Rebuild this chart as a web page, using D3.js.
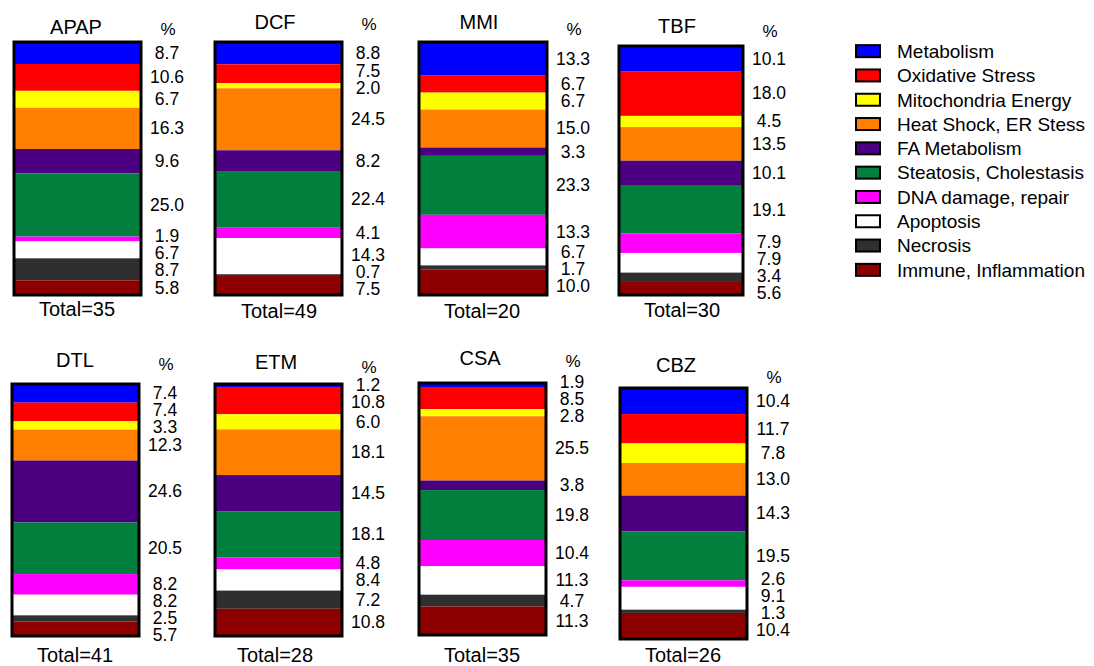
<!DOCTYPE html>
<html>
<head>
<meta charset="utf-8">
<script src="https://cdn.jsdelivr.net/npm/d3@7/dist/d3.min.js"></script>
<style>
  html, body { margin: 0; padding: 0; background: #fff; }
  svg { display: block; }
  text { font-family: "Liberation Sans", Arial, Helvetica, sans-serif; fill: #000; }
</style>
</head>
<body>
<svg id="chart" width="1094" height="666"></svg>
<script>
// ---------------- DATA ----------------
const categories = [
  "Metabolism", "Oxidative Stress", "Mitochondria Energy", "Heat Shock, ER Stess",
  "FA Metabolism", "Steatosis, Cholestasis", "DNA damage, repair", "Apoptosis",
  "Necrosis", "Immune, Inflammation"
];
const drugs  = ["APAP", "DCF", "MMI", "TBF", "DTL", "ETM", "CSA", "CBZ"];
const totals = [35, 49, 20, 30, 41, 28, 35, 26];

const APAP = [8.7, 10.6, 6.7, 16.3, 9.6, 25.0, 1.9, 6.7, 8.7, 5.8];
const DCF  = [8.8, 7.5, 2.0, 24.5, 8.2, 22.4, 4.1, 14.3, 0.7, 7.5];
const MMI  = [13.3, 6.7, 6.7, 15.0, 3.3, 23.3, 13.3, 6.7, 1.7, 10.0];
const TBF  = [10.1, 18.0, 4.5, 13.5, 10.1, 19.1, 7.9, 7.9, 3.4, 5.6];
const DTL  = [7.4, 7.4, 3.3, 12.3, 24.6, 20.5, 8.2, 8.2, 2.5, 5.7];
const ETM  = [1.2, 10.8, 6.0, 18.1, 14.5, 18.1, 4.8, 8.4, 7.2, 10.8];
const CSA  = [1.9, 8.5, 2.8, 25.5, 3.8, 19.8, 10.4, 11.3, 4.7, 11.3];
const CBZ  = [10.4, 11.7, 7.8, 13.0, 14.3, 19.5, 2.6, 9.1, 1.3, 10.4];
const seriesValues = [APAP, DCF, MMI, TBF, DTL, ETM, CSA, CBZ];

// ---------------- STYLE / LAYOUT ----------------
const colors = ["#0000FF", "#FF0000", "#FFFF00", "#FF8000", "#4B0082",
                "#007F3D", "#FF00FF", "#FFFFFF", "#2F2F2F", "#8E0000"];

// per-panel box geometry and text anchors (pixels)
const layout = [
  {x: 14,  y: 42,  w: 127, h: 253, tx: 76,  ty: 34,  py: 35,  totx: 77,  toty: 316},
  {x: 215, y: 42,  w: 127, h: 253, tx: 275, ty: 29,  py: 30,  totx: 279, toty: 318},
  {x: 419, y: 42,  w: 128, h: 253, tx: 479, ty: 29,  py: 35,  totx: 482, toty: 318},
  {x: 619, y: 46,  w: 124, h: 249, tx: 677, ty: 33,  py: 37,  totx: 682, toty: 317},
  {x: 12,  y: 384, w: 127, h: 252, tx: 75,  ty: 367, py: 370, totx: 75,  toty: 662},
  {x: 215, y: 384, w: 127, h: 252, tx: 276, ty: 369, py: 373, totx: 275, toty: 662},
  {x: 419, y: 383, w: 127, h: 252, tx: 480, ty: 365, py: 367, totx: 482, toty: 662},
  {x: 620, y: 388, w: 127, h: 251, tx: 676, ty: 372, py: 383, totx: 683, toty: 662}
];

const svg = d3.select("#chart");
const color = d3.scaleOrdinal().domain(categories).range(colors);

drugs.forEach((drug, i) => {
  const vals = seriesValues[i];
  const L = layout[i];
  const sum = d3.sum(vals);
  const y = d3.scaleLinear().domain([0, sum]).range([L.y, L.y + L.h]);
  const x = d3.scaleBand().domain([drug]).range([L.x, L.x + L.w]).padding(0);

  const ends = Array.from(d3.cumsum(vals));
  const segs = vals.map((v, k) => ({cat: categories[k], v, y0: ends[k] - v, y1: ends[k]}));

  const g = svg.append("g");

  g.selectAll("rect.seg").data(segs).join("rect")
    .attr("class", "seg")
    .attr("x", x(drug))
    .attr("width", x.bandwidth())
    .attr("y", d => y(d.y0))
    .attr("height", d => Math.max(0, y(d.y1) - y(d.y0)))
    .attr("fill", d => color(d.cat));

  g.append("rect")
    .attr("x", x(drug)).attr("y", y(0))
    .attr("width", x.bandwidth()).attr("height", y(sum) - y(0))
    .attr("fill", "none").attr("stroke", "#000").attr("stroke-width", 3);

  // label positions: segment centres, relaxed to avoid overlap
  const gap = 17;
  const pos = segs.map(d => (y(d.y0) + y(d.y1)) / 2);
  for (let it = 0; it < 200; it++) {
    for (let k = 1; k < pos.length; k++) {
      const diff = pos[k] - pos[k - 1];
      if (diff < gap) {
        const o = (gap - diff) / 2;
        pos[k - 1] -= o; pos[k] += o;
      }
    }
  }

  const lx = L.x + L.w + 26;
  g.selectAll("text.lab").data(segs).join("text")
    .attr("class", "lab")
    .attr("x", lx)
    .attr("y", (d, k) => pos[k])
    .attr("dy", "0.34em")
    .attr("text-anchor", "middle")
    .style("font-size", "17.5px")
    .text(d => d.v.toFixed(1));

  g.append("text")
    .attr("x", lx + 1).attr("y", L.py)
    .attr("text-anchor", "middle")
    .style("font-size", "17px")
    .text("%");

  g.append("text")
    .attr("x", L.tx).attr("y", L.ty)
    .attr("text-anchor", "middle")
    .style("font-size", "20px")
    .text(drug);

  g.append("text")
    .attr("x", L.totx).attr("y", L.toty)
    .attr("text-anchor", "middle")
    .style("font-size", "20px")
    .text("Total=" + totals[i]);
});

// ---------------- LEGEND ----------------
const legendY = d3.scaleBand().domain(categories).range([39, 282]);
const leg = svg.append("g");
const items = leg.selectAll("g").data(categories).join("g")
  .attr("transform", d => `translate(0,${legendY(d) + legendY.bandwidth() / 2})`);
items.append("rect")
  .attr("x", 856).attr("y", -6).attr("width", 24).attr("height", 12)
  .attr("fill", d => color(d)).attr("stroke", "#000").attr("stroke-width", 2);
items.append("text")
  .attr("x", 897).attr("y", 0).attr("dy", "0.36em")
  .style("font-size", "19px")
  .text(d => d);
</script>
</body>
</html>
